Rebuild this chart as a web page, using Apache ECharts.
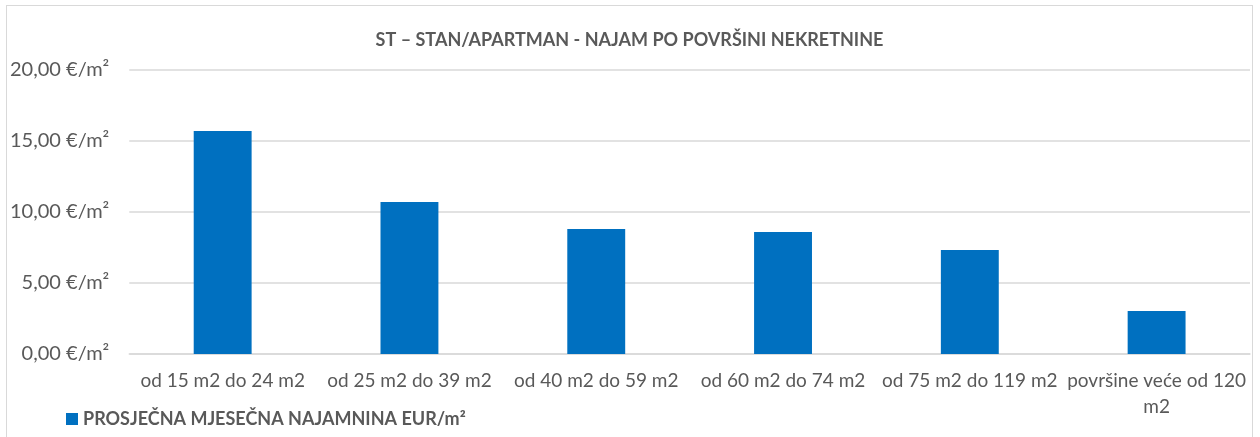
<!DOCTYPE html>
<html>
<head>
<meta charset="utf-8">
<script src="https://cdn.jsdelivr.net/npm/echarts@6/dist/echarts.min.js"></script>
<style>
  html, body { margin: 0; padding: 0; background: #fff; }
  #chart {
    position: absolute; left: 6px; top: 5px;
    width: 1247px; height: 440px;
    border: 1px solid #d9d9d9; box-sizing: border-box;
  }
</style>
</head>
<body>
<div id="chart"></div>
<script>
// kategorije i vrijednosti (EUR/m2)
const categories = ['od 15 m2 do 24 m2', 'od 25 m2 do 39 m2', 'od 40 m2 do 59 m2',
  'od 60 m2 do 74 m2', 'od 75 m2 do 119 m2', 'površine veće od 120 m2']
const najamnina = [15.70, 10.70, 8.80, 8.59, 7.32, 3.03]
const seriesName = 'PROSJEČNA MJESEČNA NAJAMNINA EUR/m²'

const chart = echarts.init(document.getElementById('chart'))

const txt = '#595959'
const font = 'Lato, "Open Sans", sans-serif'

chart.setOption({
  animation: false,
  title: {
    text: 'ST – STAN/APARTMAN - NAJAM PO POVRŠINI NEKRETNINE',
    left: 'center',
    top: 20,
    textStyle: { color: txt, fontSize: 18, fontWeight: 'bold', fontFamily: font }
  },
  legend: {
    data: [seriesName],
    left: 54,
    top: 399,
    itemWidth: 12,
    itemHeight: 12,
    itemGap: 6,
    icon: 'rect',
    textStyle: { color: txt, fontSize: 18, fontWeight: 'bold', fontFamily: font }
  },
  grid: { left: 121, right: 2, top: 64, bottom: 90 },
  xAxis: {
    type: 'category',
    data: categories,
    axisLine: { lineStyle: { color: '#d9d9d9', width: 1.5 } },
    axisTick: { show: false },
    axisLabel: {
      color: txt, fontSize: 19, fontFamily: font, margin: 14, interval: 0,
      lineHeight: 26,
      formatter: v => v === 'površine veće od 120 m2' ? 'površine veće od 120\nm2' : v
    }
  },
  yAxis: {
    type: 'value',
    min: 0, max: 20, interval: 5,
    axisLine: { show: false },
    axisTick: { show: false },
    splitLine: { lineStyle: { color: '#d9d9d9', width: 1.5 } },
    axisLabel: {
      color: txt, fontSize: 20, fontFamily: font, margin: 20,
      formatter: v => v.toFixed(2).replace('.', ',') + ' €/m²'
    }
  },
  series: [{
    name: seriesName,
    type: 'bar',
    data: najamnina,
    barWidth: '31%',
    itemStyle: { color: '#0070C0' }
  }]
})
</script>
</body>
</html>
